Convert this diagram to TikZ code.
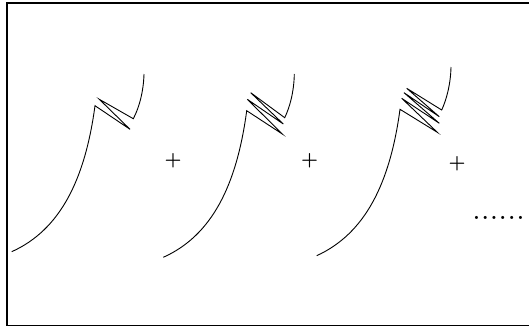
\documentclass[tikz,border=0pt]{standalone}
\usepackage{tikz}

\begin{document}
\begin{tikzpicture}[x=1pt,y=-1pt,
    wave/.style={line width=0.9pt},
    op/.style={inner sep=0pt,scale=1.9,font=\bfseries}]
  \useasboundingbox (0,0) rectangle (529,332);
  \draw[line width=1.4pt] (529,3) -- (7,3) -- (7,325.5) -- (529,325.5);

  % one kink
  \draw[wave] (11.7,251.7) .. controls (60,230) and (85,180) .. (95,105.7)
    -- (130,129.3) -- (99.3,99.3) -- (133.3,118.7)
    .. controls (139,108) and (143.5,92) .. (144,74);
  \node[op] (plusA) at (173,161) {+};

  % two kinks
  \draw[wave] (163.3,257.3) .. controls (211.7,235.6) and (236.7,185.6) .. (246.7,110.7)
    -- (282.3,134) -- (247.3,99.3) -- (283.3,124) -- (250.7,92.7) -- (284.7,117.7)
    .. controls (289.9,107) and (294,91.5) .. (294.3,74);
  \node[op] (plusB) at (309.5,161) {+};

  % three kinks
  \draw[wave] (316.7,255.7) .. controls (365,233.6) and (390,183.6) .. (400,109.3)
    -- (437.3,132.3) -- (401.7,98.3) -- (439.3,123.3) -- (404,92.7)
    -- (439.3,116.7) -- (406.7,88.3) -- (441.7,110)
    .. controls (446.5,99.5) and (450.6,84.5) .. (451,67);
  \node[op] (plusC) at (457,164) {+};

  \node[scale=2,anchor=base west,inner sep=0pt,font=\bfseries] (dots) at (473,219.5)
    {.\kern1.2pt.\kern1.2pt.\kern1.2pt.\kern1.2pt.\kern1.2pt.};
\end{tikzpicture}
\end{document}
